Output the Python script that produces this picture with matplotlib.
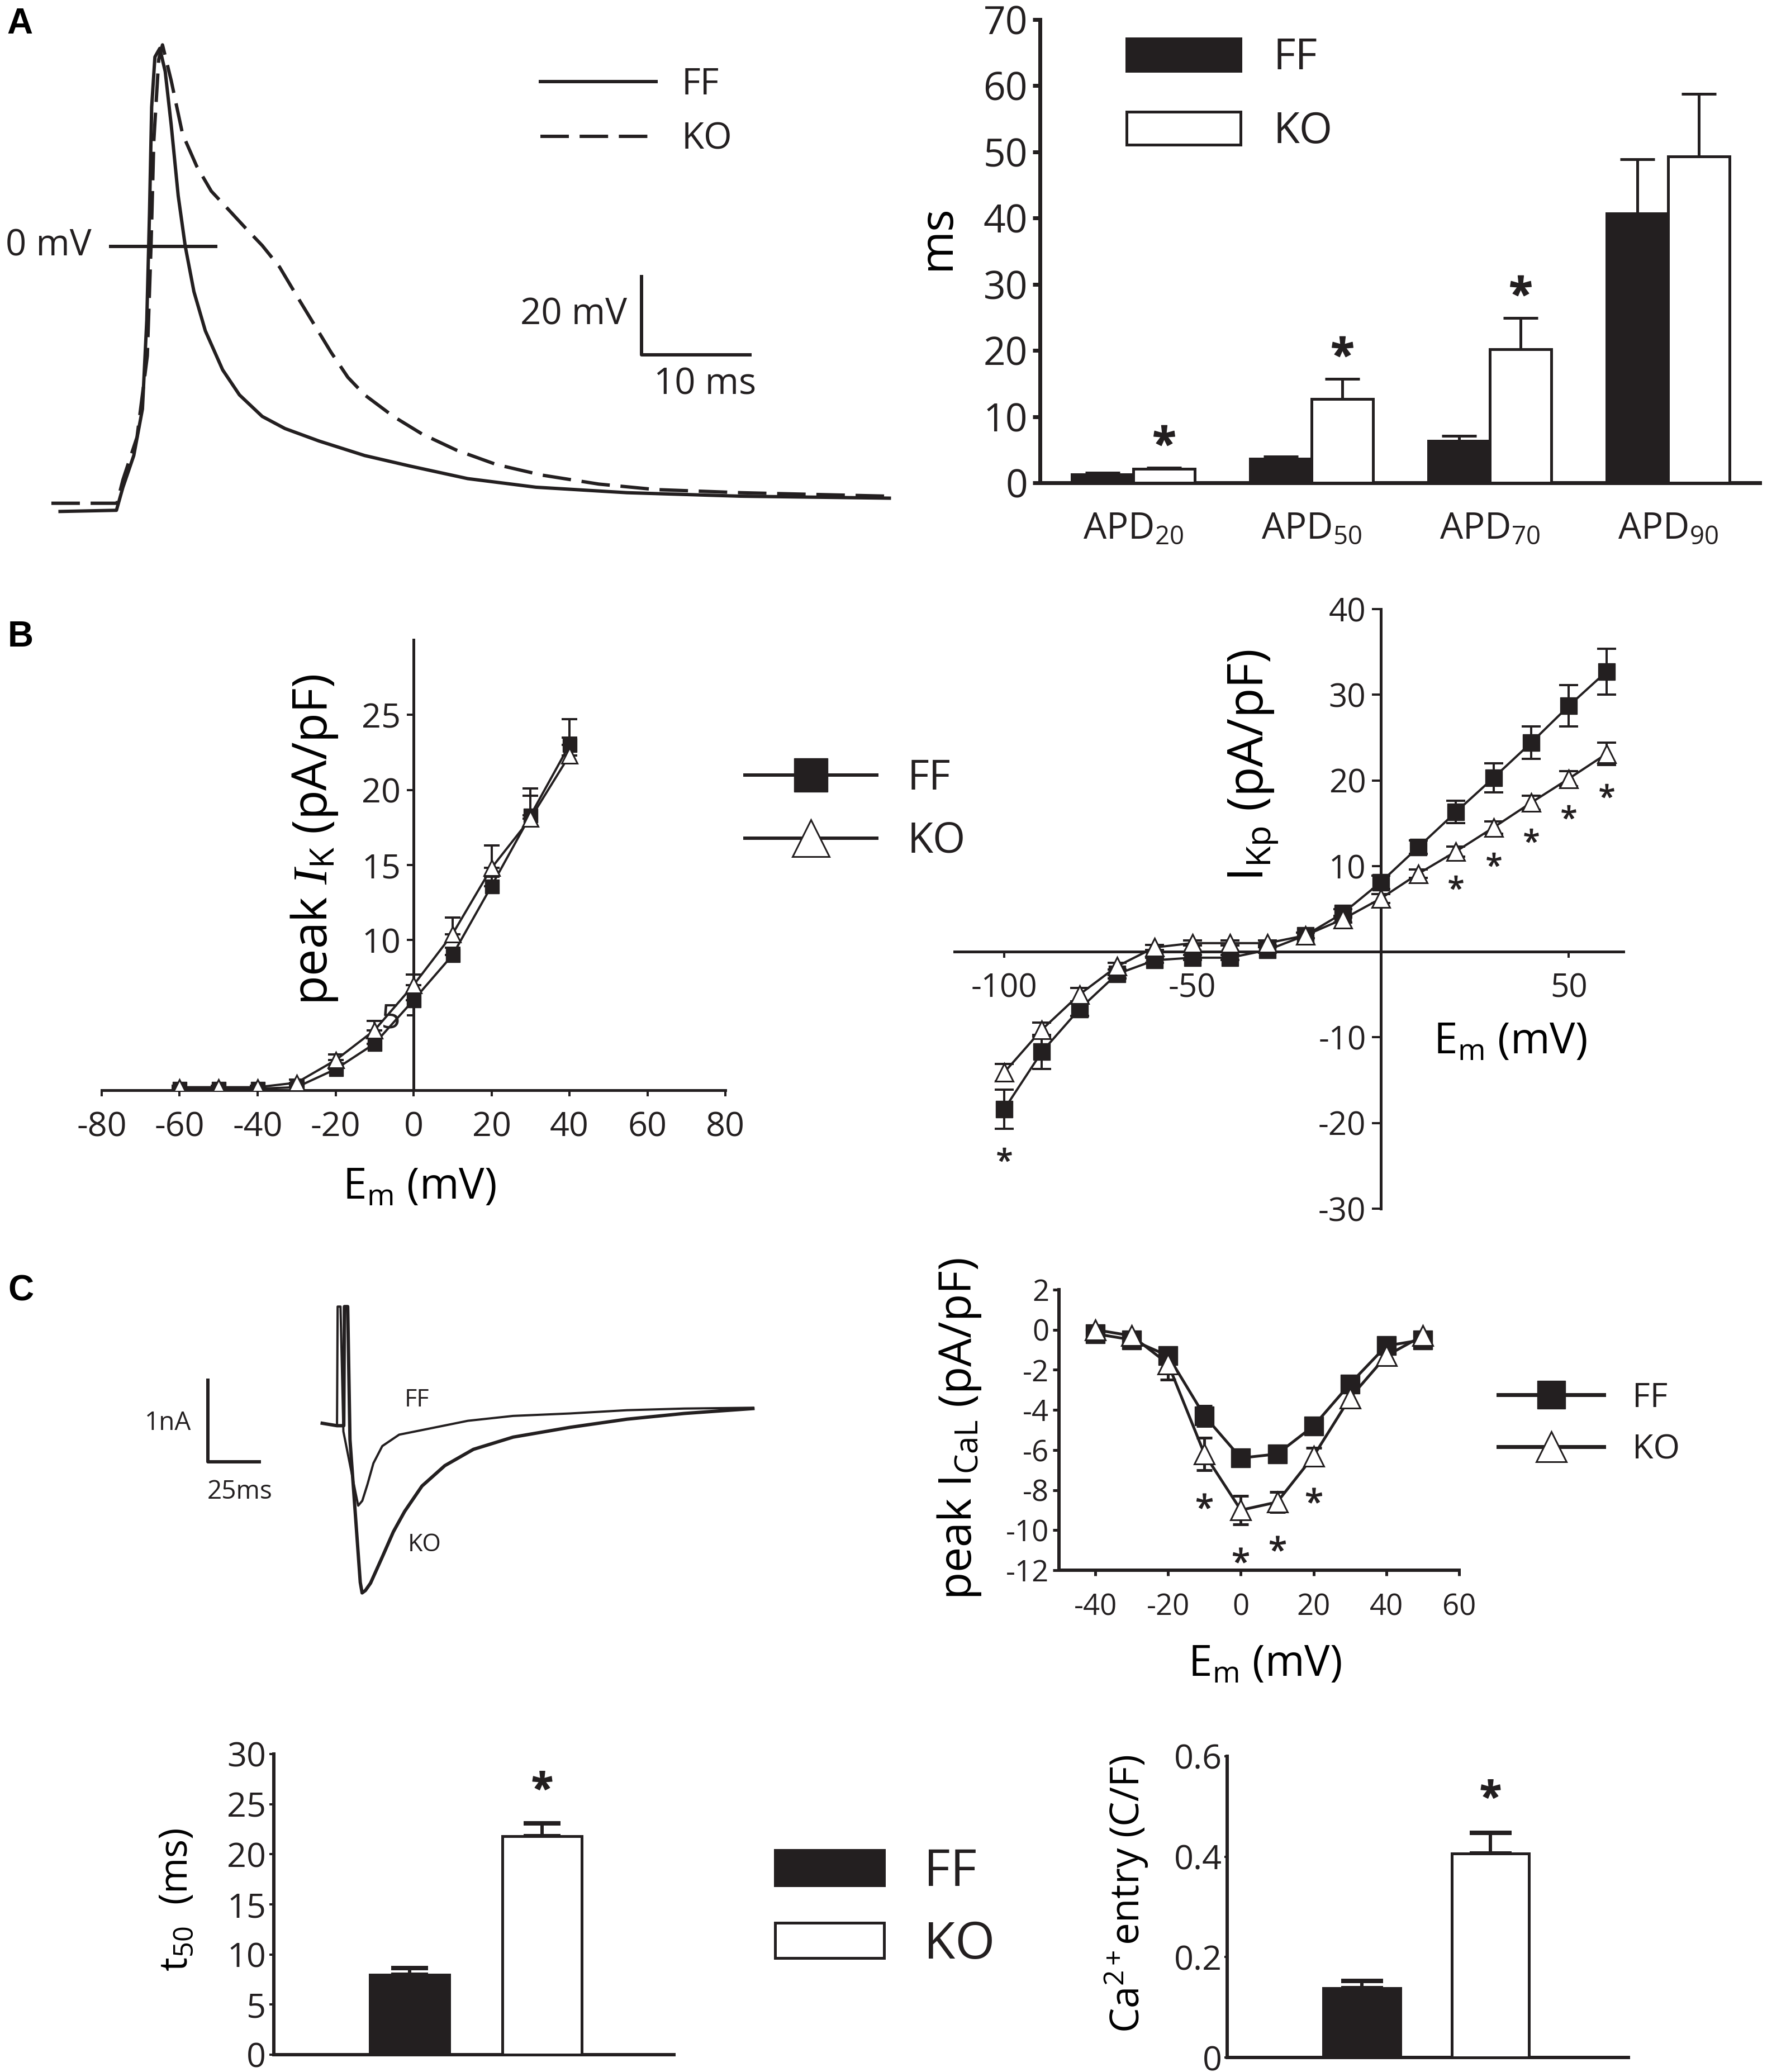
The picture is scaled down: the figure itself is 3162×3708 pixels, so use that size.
import numpy as np
import matplotlib
matplotlib.use('Agg')
import matplotlib.pyplot as plt

W, H = 3162, 3708
DPI = 100
PX = 72.0 / DPI   # points per pixel
INK = '#231f20'

plt.rcParams['font.family'] = ['Open Sans', 'DejaVu Sans']
plt.rcParams['mathtext.fontset'] = 'custom'
plt.rcParams['mathtext.rm'] = 'Open Sans'
plt.rcParams['mathtext.it'] = 'Liberation Serif:italic'
plt.rcParams['mathtext.bf'] = 'Open Sans:bold'
plt.rcParams['mathtext.default'] = 'regular'
plt.rcParams['axes.unicode_minus'] = False
plt.rcParams['text.color'] = INK
plt.rcParams['axes.edgecolor'] = INK
plt.rcParams['xtick.color'] = INK
plt.rcParams['ytick.color'] = INK

# ---------------- data ----------------
# Panel A: action potential traces (ms, mV)
apFF_t = [0.8, 6.0, 6.6, 7.6, 8.4, 8.8, 9.05, 9.25, 9.55, 10.0, 10.5, 11.05, 11.7, 12.35,
          13.15, 14.2, 15.8, 17.35, 19.45, 21.55, 24.7, 28.9, 33.1, 38.4, 44.7, 53.1, 63.6, 77.3]
apFF_v = [-67.8, -67.5, -61.6, -53.5, -41.6, -18.9, 8.4, 35.6, 48.4, 50.6, 44.7, 31.1, 12.9, 0.0,
          -11.6, -21.6, -31.6, -38.0, -43.5, -46.6, -49.8, -53.5, -56.2, -59.4, -61.6, -63.0, -63.9, -64.4]
apKO_t = [0, 6.05, 6.6, 7.9, 8.85, 9.2, 9.45, 9.9, 10.25, 11.05, 12.1, 13.4, 14.75, 16.3, 17.9,
          19.45, 21.05, 22.6, 24.2, 25.8, 27.35, 28.9, 31.55, 34.2, 37.35, 41.05, 45.25, 50.5, 55.75, 63.6, 77.3]
apKO_v = [-65.7, -65.7, -59.7, -48.8, -28.0, 0.7, 26.9, 47.8, 51.5, 42.4, 28.7, 20.5, 14.1, 9.5, 4.7,
          0.2, -5.3, -12.5, -19.8, -27.1, -33.5, -38.0, -43.5, -48.0, -52.1, -55.8, -58.5, -60.8, -62.2, -63.0, -63.9]

# Panel A: APD bars (ms)
apd_labels = ['APD$_{20}$', 'APD$_{50}$', 'APD$_{70}$', 'APD$_{90}$']
apd_ff = [1.3, 3.6, 6.3, 40.7]
apd_ff_err = [0.2, 0.4, 0.8, 8.2]
apd_ko = [2.1, 12.7, 20.2, 49.3]
apd_ko_err = [0.2, 3.0, 4.7, 9.5]
apd_sig = [True, True, True, False]

# Panel B left: peak IK
ik_v = [-60, -50, -40, -30, -20, -10, 0, 10, 20, 30, 40]
ik_ff = [0.1, 0.1, 0.1, 0.2, 1.4, 3.1, 6.0, 9.0, 13.6, 18.3, 23.0]
ik_ff_err = [0.1, 0.1, 0.1, 0.1, 0.3, 0.4, 0.5, 0.5, 0.6, 1.3, 1.7]
ik_ko = [0.2, 0.2, 0.2, 0.5, 2.0, 4.0, 7.0, 10.4, 14.8, 18.1, 22.3]
ik_ko_err = [0.1, 0.1, 0.1, 0.2, 0.4, 0.6, 0.7, 1.1, 1.5, 2.0, 1.2]

# Panel B right: IKp
ikp_v = [-100, -90, -80, -70, -60, -50, -40, -30, -20, -10, 0, 10, 20, 30, 40, 50, 60]
ikp_ff = [-18.4, -11.7, -6.7, -2.6, -1.0, -0.7, -0.7, 0.2, 1.9, 4.5, 8.1, 12.2, 16.3, 20.3, 24.4, 28.7, 32.7]
ikp_ff_err = [2.3, 2.0, 0.8, 0.5, 0.3, 0.3, 0.3, 0.3, 0.3, 0.5, 0.8, 0.8, 1.3, 1.7, 1.9, 2.4, 2.7]
ikp_ko = [-14.1, -9.1, -5.0, -1.7, 0.5, 1.0, 1.0, 1.0, 1.9, 3.8, 6.2, 9.1, 11.7, 14.5, 17.4, 20.2, 23.1]
ikp_ko_err = [1.0, 0.8, 0.8, 0.4, 0.3, 0.3, 0.3, 0.3, 0.3, 0.4, 0.5, 0.5, 0.6, 0.7, 0.8, 0.9, 1.3]
ikp_sig_v = [-100, 20, 30, 40, 50, 60]

# Panel C: ICaL current traces (ms, nA)
ca_ff_t = [0, 7.2, 7.5, 8.9, 10.3, 16.2, 17.5, 19.5, 22.0, 24.9, 29.2, 37.4, 51.2, 70.8, 92.8, 120.5, 148.2, 176.0, 209.4]
ca_ff_i = [0, -0.03, 1.43, 1.43, -0.1, -0.85, -1.01, -0.95, -0.75, -0.49, -0.28, -0.14, -0.07, 0.03, 0.09, 0.12, 0.16, 0.18, 0.19]
ca_ko_t = [0, 7.2, 10.5, 10.8, 12.4, 13.5, 18.5, 19.4, 21.0, 23.5, 29.2, 34.6, 40.1, 48.5, 59.6, 73.5, 92.8, 120.5, 148.2, 176.0, 209.4]
ca_ko_i = [0, -0.03, -0.03, 1.43, 1.43, -0.2, -1.95, -2.08, -2.05, -1.96, -1.64, -1.33, -1.08, -0.77, -0.52, -0.32, -0.17, -0.05, 0.05, 0.12, 0.18]

# Panel C: ICaL I-V
ical_v = [-40, -30, -20, -10, 0, 10, 20, 30, 40, 50]
ical_ff = [-0.2, -0.5, -1.3, -4.3, -6.4, -6.2, -4.8, -2.7, -0.8, -0.5]
ical_ff_err = [0.2, 0.2, 0.3, 0.5, 0.2, 0.2, 0.3, 0.3, 0.2, 0.2]
ical_ko = [0.0, -0.3, -1.7, -6.2, -9.0, -8.6, -6.3, -3.4, -1.3, -0.3]
ical_ko_err = [0.2, 0.2, 0.8, 0.8, 0.7, 0.5, 0.4, 0.3, 0.3, 0.2]
ical_sig_v = [-10, 0, 10, 20]

# Panel C: t50 and Ca entry bars
groups = ['FF', 'KO']
t50_vals = [7.95, 21.8]
t50_err = [0.7, 1.3]
caentry_vals = [0.138, 0.406]
caentry_err = [0.014, 0.041]

# ---------------- figure ----------------
fig = plt.figure(figsize=(W / DPI, H / DPI), dpi=DPI)


def add_ax(l, t, r, b):
    ax = fig.add_axes([l / W, 1 - b / H, (r - l) / W, (b - t) / H])
    ax.patch.set_visible(False)
    return ax


def fxy(x, y):
    return (x / W, 1 - y / H)


def style_spines(ax, lw):
    for s in ['top', 'right']:
        ax.spines[s].set_visible(False)
    for s in ['left', 'bottom']:
        ax.spines[s].set_linewidth(lw)
        ax.spines[s].set_capstyle('projecting')


def place_ylabel(ax, text, x, y, size):
    ax.set_ylabel(text, fontsize=size, va='center', ha='center')
    ax.yaxis.set_label_coords(*fxy(x, y), transform=fig.transFigure)


def place_xlabel(ax, text, x, y, size):
    ax.set_xlabel(text, fontsize=size, va='baseline', ha='center')
    ax.xaxis.set_label_coords(*fxy(x, y), transform=fig.transFigure)


panel_font = dict(fontsize=46, fontweight='bold', family=['Liberation Sans', 'DejaVu Sans'],
                  va='center', ha='left', color='black')
fig.text(*fxy(12, 43), 'A', **panel_font)
fig.text(*fxy(14, 1140), 'B', **panel_font)
fig.text(*fxy(14, 2311), 'C', **panel_font)

LW_TRACE = 6 * PX

# ---- A: AP traces ----
axA = add_ax(0, 60, 1600, 1000)
axA.set_xlim(-4.74, 77.74)
axA.set_ylim(-79.9, 54.4)
axA.axis('off')
axA.plot(apFF_t, apFF_v, color=INK, lw=LW_TRACE, label='FF', solid_joinstyle='round')
axA.plot(apKO_t, apKO_v, color=INK, lw=LW_TRACE, dashes=(8.5, 3.2), label='KO')
ZERO_LINE_T = (5.3, 15.3)
axA.hlines(0, *ZERO_LINE_T, color=INK, lw=LW_TRACE)
axA.text(3.7, 0, '0 mV', fontsize=47, ha='right', va='center')
SB_T, SB_V = 54.44, -27.7
axA.plot([SB_T, SB_T, SB_T + 10], [SB_V + 20, SB_V, SB_V], color=INK, lw=LW_TRACE)
axA.text(53.1, -17.6, '20 mV', fontsize=47, ha='right', va='center')
axA.text(60.3, -35.4, '10 ms', fontsize=47, ha='center', va='center')
axA.legend(loc='center left', bbox_to_anchor=fxy(967, 201), bbox_transform=fig.transFigure,
           frameon=False, fontsize=47, handlelength=3.17, handletextpad=0.7,
           labelspacing=0.48, borderpad=0, borderaxespad=0)

# ---- A: APD bars ----
axAB = add_ax(1861, 35, 3149, 864)
xa = np.arange(len(apd_labels))
wa = 0.345
axAB.bar(xa - wa / 2, apd_ff, wa, color=INK, edgecolor=INK, lw=5 * PX, label='FF', zorder=3)
axAB.bar(xa + wa / 2, apd_ko, wa, color='white', edgecolor=INK, lw=5 * PX, label='KO', zorder=3)
axAB.errorbar(xa - wa / 2, apd_ff, yerr=[np.zeros(4), apd_ff_err], fmt='none', ecolor=INK,
              elinewidth=5 * PX, capsize=22, capthick=5 * PX, zorder=2)
axAB.errorbar(xa + wa / 2, apd_ko, yerr=[np.zeros(4), apd_ko_err], fmt='none', ecolor=INK,
              elinewidth=5 * PX, capsize=22, capthick=5 * PX, zorder=2)
sx = [xa[i] + wa / 2 for i in range(4) if apd_sig[i]]
sy = [apd_ko[i] + apd_ko_err[i] + 4.9 for i in range(4) if apd_sig[i]]
axAB.plot(sx, sy, ls='none', marker=r'$\mathbf{*}$', ms=27, color=INK)
axAB.set_xlim(-0.523, 3.514)
axAB.set_ylim(0, 70)
style_spines(axAB, 7 * PX)
axAB.set_yticks(np.arange(0, 71, 10))
axAB.tick_params(axis='y', labelsize=50, length=13 * PX, width=7 * PX, pad=9 * PX)
axAB.set_xticks(xa)
axAB.set_xticklabels(apd_labels)
axAB.tick_params(axis='x', labelsize=47, length=0, pad=50 * PX)
place_ylabel(axAB, 'ms', 1678, 425, 60)
axAB.legend(loc='center left', bbox_to_anchor=fxy(2016, 170), bbox_transform=fig.transFigure,
            frameon=False, fontsize=55, handlelength=2.67, handleheight=0.8, handletextpad=0.76,
            labelspacing=0.72, borderpad=0, borderaxespad=0)

# ---- B left: peak IK ----
axBL = add_ax(182, 1145, 1298, 1951)
LW_B = 4 * PX
axBL.errorbar(ik_v, ik_ff, yerr=[np.zeros(len(ik_v)), ik_ff_err], fmt='none', ecolor=INK,
              elinewidth=LW_B, capsize=10, capthick=LW_B, zorder=2)
axBL.errorbar(ik_v, ik_ko, yerr=[np.zeros(len(ik_v)), ik_ko_err], fmt='none', ecolor=INK,
              elinewidth=LW_B, capsize=10, capthick=LW_B, zorder=2)
lff, = axBL.plot(ik_v, ik_ff, color=INK, lw=LW_B, marker='s', ms=18, mfc=INK, mec=INK, label='FF', zorder=3)
lko, = axBL.plot(ik_v, ik_ko, color=INK, lw=LW_B, marker='^', ms=20, mfc='white', mec=INK,
                 mew=3 * PX, label='KO', zorder=4)
axBL.set_xlim(-80, 80)
axBL.set_ylim(0, 30)
style_spines(axBL, 5 * PX)
axBL.spines['left'].set_position(('data', 0))
axBL.set_xticks(np.arange(-80, 81, 20))
axBL.set_yticks([5, 10, 15, 20, 25])
axBL.tick_params(axis='x', labelsize=44, length=11 * PX, width=4 * PX, pad=26 * PX)
axBL.tick_params(axis='y', labelsize=44, length=12 * PX, width=4 * PX, pad=11 * PX)
place_ylabel(axBL, r'peak $\mathit{I}_{K}$ (pA/pF)', 563, 1503, 62)
place_xlabel(axBL, 'E$_{m}$ (mV)', 750, 2146, 55)
legB = axBL.legend(handles=[lff, lko], loc='center left', bbox_to_anchor=fxy(1333, 1450),
                   bbox_transform=fig.transFigure, frameon=False, fontsize=54, handlelength=3.15,
                   handletextpad=0.73, labelspacing=0.5, markerscale=2.4, borderpad=0, borderaxespad=0)
for ln in legB.get_lines():
    ln.set_linewidth(6 * PX)

# ---- B right: IKp ----
axBR = add_ax(1708, 1090, 2905, 2163)
axBR.errorbar(ikp_v, ikp_ff, yerr=ikp_ff_err, fmt='none', ecolor=INK, elinewidth=LW_B,
              capsize=12, capthick=LW_B, zorder=2)
axBR.errorbar(ikp_v, ikp_ko, yerr=ikp_ko_err, fmt='none', ecolor=INK, elinewidth=LW_B,
              capsize=12, capthick=LW_B, zorder=2)
axBR.plot(ikp_v, ikp_ff, color=INK, lw=LW_B, marker='s', ms=21, mfc=INK, mec=INK, zorder=3)
axBR.plot(ikp_v, ikp_ko, color=INK, lw=LW_B, marker='^', ms=23, mfc='white', mec=INK,
          mew=3 * PX, zorder=4)
sig_y = []
for v in ikp_sig_v:
    i = ikp_v.index(v)
    sig_y.append(min(ikp_ff[i] - ikp_ff_err[i], ikp_ko[i] - ikp_ko_err[i]) - 3.0)
axBR.plot(ikp_sig_v, sig_y, ls='none', marker=r'$*$', ms=18, color=INK)
axBR.set_xlim(-113.2, 64.5)
axBR.set_ylim(-30, 40)
style_spines(axBR, 5 * PX)
axBR.spines['left'].set_position(('data', 0))
axBR.spines['bottom'].set_position(('data', 0))
axBR.set_xticks([-100, -50, 50])
axBR.set_yticks([-30, -20, -10, 10, 20, 30, 40])
axBR.tick_params(axis='x', labelsize=42, length=11 * PX, width=4 * PX, pad=26 * PX)
axBR.tick_params(axis='y', labelsize=42, length=16 * PX, width=4 * PX, pad=10 * PX)
place_ylabel(axBR, 'I$_{Kp}$ (pA/pF)', 2243, 1369, 63)
place_xlabel(axBR, 'E$_{m}$ (mV)', 2702, 1886, 55)

# ---- C: ICaL traces ----
axCT = add_ax(200, 2300, 1400, 2900)
axCT.set_xlim(-102.3, 223.7)
axCT.set_ylim(-2.418, 1.692)
axCT.axis('off')
axCT.plot(ca_ff_t, ca_ff_i, color=INK, lw=4 * PX)
axCT.plot(ca_ko_t, ca_ko_i, color=INK, lw=6 * PX)
SBC_T, SBC_I = -55.6, -0.47
axCT.plot([SBC_T, SBC_T, SBC_T + 25], [SBC_I + 1, SBC_I, SBC_I], color=INK, lw=6 * PX)
axCT.text(-63.7, 0.0, '1nA', fontsize=33, ha='right', va='center')
axCT.text(-40.1, -0.84, '25ms', fontsize=33, ha='center', va='center')
axCT.text(40.1, 0.28, 'FF', fontsize=31, ha='left', va='center')
axCT.text(41.7, -1.49, 'KO', fontsize=31, ha='left', va='center')

# ---- C: ICaL I-V ----
axCI = add_ax(1895, 2308, 2611, 2810)
LW_C = 5 * PX
axCI.errorbar(ical_v, ical_ff, yerr=ical_ff_err, fmt='none', ecolor=INK, elinewidth=LW_C,
              capsize=10, capthick=LW_C, zorder=2)
axCI.errorbar(ical_v, ical_ko, yerr=ical_ko_err, fmt='none', ecolor=INK, elinewidth=LW_C,
              capsize=10, capthick=LW_C, zorder=2)
cff, = axCI.plot(ical_v, ical_ff, color=INK, lw=LW_C, marker='s', ms=24, mfc=INK, mec=INK,
                 label='FF', zorder=3)
cko, = axCI.plot(ical_v, ical_ko, color=INK, lw=LW_C, marker='^', ms=26, mfc='white', mec=INK,
                 mew=3 * PX, label='KO', zorder=4)
csig_y = [ical_ko[ical_v.index(v)] - ical_ko_err[ical_v.index(v)] - 1.55 for v in ical_sig_v]
axCI.plot(ical_sig_v, csig_y, ls='none', marker=r'$*$', ms=20, color=INK)
axCI.set_xlim(-50, 60)
axCI.set_ylim(-12, 2)
style_spines(axCI, 6 * PX)
axCI.set_xticks(np.arange(-40, 61, 20))
axCI.set_yticks(np.arange(-12, 3, 2))
axCI.tick_params(axis='x', labelsize=38, length=10 * PX, width=5 * PX, pad=30 * PX)
axCI.tick_params(axis='y', labelsize=38, length=11 * PX, width=5 * PX, pad=7 * PX)
place_ylabel(axCI, 'peak I$_{CaL}$ (pA/pF)', 1717, 2557, 58)
place_xlabel(axCI, 'E$_{m}$ (mV)', 2263, 3000, 55)
legC = axCI.legend(handles=[cff, cko], loc='center left', bbox_to_anchor=fxy(2681, 2548),
                   bbox_transform=fig.transFigure, frameon=False, fontsize=44, handlelength=3.1,
                   handletextpad=0.82, labelspacing=0.54, markerscale=1.5, borderpad=0, borderaxespad=0)
for ln in legC.get_lines():
    ln.set_linewidth(7 * PX)

# ---- C: t50 bars ----
axT = add_ax(490, 3139, 1206, 3677)
xb = np.arange(len(groups))
wb = 0.6
colors = [INK, 'white']
bt = axT.bar(xb, t50_vals, wb, color=colors, edgecolor=INK, lw=5 * PX, zorder=3)
axT.errorbar(xb, t50_vals, yerr=[np.zeros(2), t50_err], fmt='none', ecolor=INK,
             elinewidth=6 * PX, capsize=24, capthick=8 * PX, zorder=2)
axT.plot([xb[1]], [t50_vals[1] + t50_err[1] + 4.3], ls='none', marker=r'$\mathbf{*}$', ms=25, color=INK)
axT.set_xlim(-1.025, 1.996)
axT.set_ylim(0, 30)
style_spines(axT, 6 * PX)
axT.set_xticks([])
axT.set_yticks(np.arange(0, 31, 5))
axT.tick_params(axis='y', labelsize=44, length=8 * PX, width=4 * PX, pad=6 * PX)
place_ylabel(axT, 't$_{50}$  (ms)', 317, 3400, 50)
bt.patches[0].set_label('FF')
bt.patches[1].set_label('KO')
axT.legend(handles=list(bt.patches), loc='center left', bbox_to_anchor=fxy(1387, 3416),
           bbox_transform=fig.transFigure, frameon=False, fontsize=66, handlelength=2.13,
           handleheight=0.68, handletextpad=0.77, labelspacing=0.42, borderpad=0, borderaxespad=0)

# ---- C: Ca entry bars ----
axE = add_ax(2196, 3143, 2914, 3682)
axE.bar(xb, caentry_vals, wb, color=colors, edgecolor=INK, lw=5 * PX, zorder=3)
axE.errorbar(xb, caentry_vals, yerr=[np.zeros(2), caentry_err], fmt='none', ecolor=INK,
             elinewidth=6 * PX, capsize=27, capthick=8 * PX, zorder=2)
axE.plot([xb[1]], [caentry_vals[1] + caentry_err[1] + 0.088], ls='none', marker=r'$\mathbf{*}$',
         ms=25, color=INK)
axE.set_xlim(-1.048, 2.074)
axE.set_ylim(0, 0.6)
style_spines(axE, 6 * PX)
axE.set_xticks([])
axE.set_yticks([0, 0.2, 0.4, 0.6])
axE.set_yticklabels(['0', '0.2', '0.4', '0.6'])
axE.tick_params(axis='y', labelsize=44, length=5 * PX, width=4 * PX, pad=4 * PX)
place_ylabel(axE, 'Ca$^{2+}$entry (C/F)', 2015, 3389, 51)

fig.savefig('out.png', dpi=DPI, facecolor='white')
